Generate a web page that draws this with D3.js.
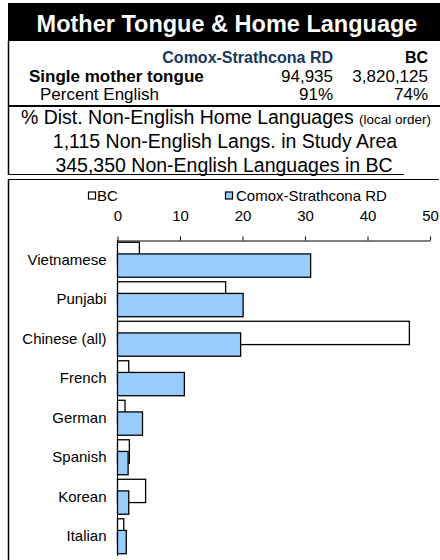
<!DOCTYPE html>
<html><head><meta charset="utf-8">
<script src="https://cdn.jsdelivr.net/npm/d3@7"></script>
<style>html,body{margin:0;padding:0;background:#fff;}svg{display:block;font-family:Arial,"Liberation Sans",sans-serif;}</style>
</head><body>
<script>
const categories = ["Vietnamese","Punjabi","Chinese (all)","French","German","Spanish","Korean","Italian"];
const bcValues = [3.5, 17.3, 46.7, 1.8, 1.2, 1.9, 4.5, 1.0];
const comoxValues = [30.9, 20.1, 19.7, 10.7, 4.0, 1.7, 1.8, 1.4];
const tickValues = [0, 10, 20, 30, 40, 50];
const seriesNames = ["BC", "Comox-Strathcona RD"];
const title = "Mother Tongue & Home Language";
const headerCols = ["Comox-Strathcona RD", "BC"];
const rowLabels = ["Single mother tongue", "Percent English"];
const comoxStats = ["94,935", "91%"];
const bcStats = ["3,820,125", "74%"];
const subLines = ["% Dist. Non-English Home Languages", "1,115 Non-English Langs. in Study Area", "345,350 Non-English Languages in BC"];
const subNote = "(local order)";

const W = 440, H = 560;
const svg = d3.select("body").append("svg").attr("width", W).attr("height", H);

// title bar
svg.append("rect").attr("x", 8).attr("y", 3).attr("width", W - 8).attr("height", 38).attr("fill", "#000");
svg.append("text").attr("x", 227).attr("y", 32).attr("text-anchor", "middle")
  .attr("fill", "#fff").attr("font-weight", "bold").attr("font-size", 23.5).text(title);

// header table
svg.append("text").attr("x", 333).attr("y", 63).attr("text-anchor", "end").attr("font-weight", "bold")
  .attr("font-size", 16).attr("fill", "#17375E").text(headerCols[0]);
svg.append("text").attr("x", 428).attr("y", 63).attr("text-anchor", "end").attr("font-weight", "bold")
  .attr("font-size", 16).attr("fill", "#000").text(headerCols[1]);
const rowY = [82, 100];
rowLabels.forEach((r, i) => {
  svg.append("text").attr("x", i === 0 ? 29 : 40).attr("y", rowY[i]).attr("font-size", 17)
    .attr("font-weight", i === 0 ? "bold" : "normal").text(r);
  svg.append("text").attr("x", 333).attr("y", rowY[i]).attr("text-anchor", "end").attr("font-size", 17).text(comoxStats[i]);
  svg.append("text").attr("x", 428).attr("y", rowY[i]).attr("text-anchor", "end").attr("font-size", 17).text(bcStats[i]);
});
svg.append("line").attr("x1", 8).attr("x2", W).attr("y1", 106).attr("y2", 106).attr("stroke", "#000").attr("stroke-width", 2);
svg.append("line").attr("x1", 8.5).attr("x2", 8.5).attr("y1", 41).attr("y2", 175).attr("stroke", "#000").attr("stroke-width", 1.5);

// subtitle lines
const l1 = svg.append("text").attr("x", 226).attr("y", 124).attr("text-anchor", "middle").attr("font-size", 19.5);
l1.append("tspan").text(subLines[0] + " ");
l1.append("tspan").attr("font-size", 13.5).text(subNote);
svg.append("text").attr("x", 225).attr("y", 148).attr("text-anchor", "middle").attr("font-size", 19.5).text(subLines[1]);
svg.append("text").attr("x", 224).attr("y", 172).attr("text-anchor", "middle").attr("font-size", 19.5).text(subLines[2]);
svg.append("line").attr("x1", 8).attr("x2", 404).attr("y1", 174.5).attr("y2", 174.5).attr("stroke", "#000").attr("stroke-width", 1);

// chart frame
svg.append("line").attr("x1", 8).attr("x2", 439).attr("y1", 179.5).attr("y2", 179.5).attr("stroke", "#000").attr("stroke-width", 1.2);
svg.append("line").attr("x1", 8.5).attr("x2", 8.5).attr("y1", 179).attr("y2", H).attr("stroke", "#000").attr("stroke-width", 1.5);

// scales
const x = d3.scaleLinear().domain([0, 50]).range([117.5, 430]);
const y = d3.scaleBand().domain(categories).range([240, 556]).paddingInner(0.115).paddingOuter(0.0575);
const bw = y.bandwidth();
const barH = bw * 2 / 3;

const g = svg.append("g");
// BC bars (behind)
g.selectAll("rect.bc").data(categories).join("rect").attr("class", "bc")
  .attr("x", x(0)).attr("y", d => y(d))
  .attr("width", (d, i) => x(bcValues[i]) - x(0)).attr("height", barH)
  .attr("fill", "#fff").attr("stroke", "#000").attr("stroke-width", 1.3);
// Comox bars (front)
g.selectAll("rect.cx").data(categories).join("rect").attr("class", "cx")
  .attr("x", x(0)).attr("y", d => y(d) + bw / 3)
  .attr("width", (d, i) => x(comoxValues[i]) - x(0)).attr("height", barH)
  .attr("fill", "#99CCFF").attr("stroke", "#000").attr("stroke-width", 1.3);

// top axis
const ax = svg.append("g").attr("transform", "translate(0,240.5)")
  .call(d3.axisTop(x).tickValues(tickValues).tickSize(4).tickSizeOuter(0).tickPadding(16).tickFormat(d3.format("d")));
ax.select(".domain").attr("stroke", "#000");
ax.selectAll(".tick line").attr("stroke", "#000");
ax.selectAll("text").attr("font-size", 15).attr("font-family", "Arial, 'Liberation Sans', sans-serif").attr("fill", "#000");

// left axis line
const ay = svg.append("g").attr("transform", "translate(117.5,0)")
  .call(d3.axisLeft(y).tickSize(0).tickPadding(11));
ay.select(".domain").attr("stroke", "#000").attr("d", "M0,240V556");
ay.selectAll("text").attr("font-size", 15).attr("font-family", "Arial, 'Liberation Sans', sans-serif").attr("fill", "#000");

// legend
const legX = [88.5, 225.5], legTX = [97, 236];
seriesNames.forEach((s, i) => {
  svg.append("rect").attr("x", legX[i]).attr("y", 192).attr("width", 7).attr("height", 7)
    .attr("fill", i === 0 ? "#fff" : "#99CCFF").attr("stroke", "#000").attr("stroke-width", 1.2);
  svg.append("text").attr("x", legTX[i]).attr("y", 200.5).attr("font-size", 15).text(s);
});
</script>
</body></html>
